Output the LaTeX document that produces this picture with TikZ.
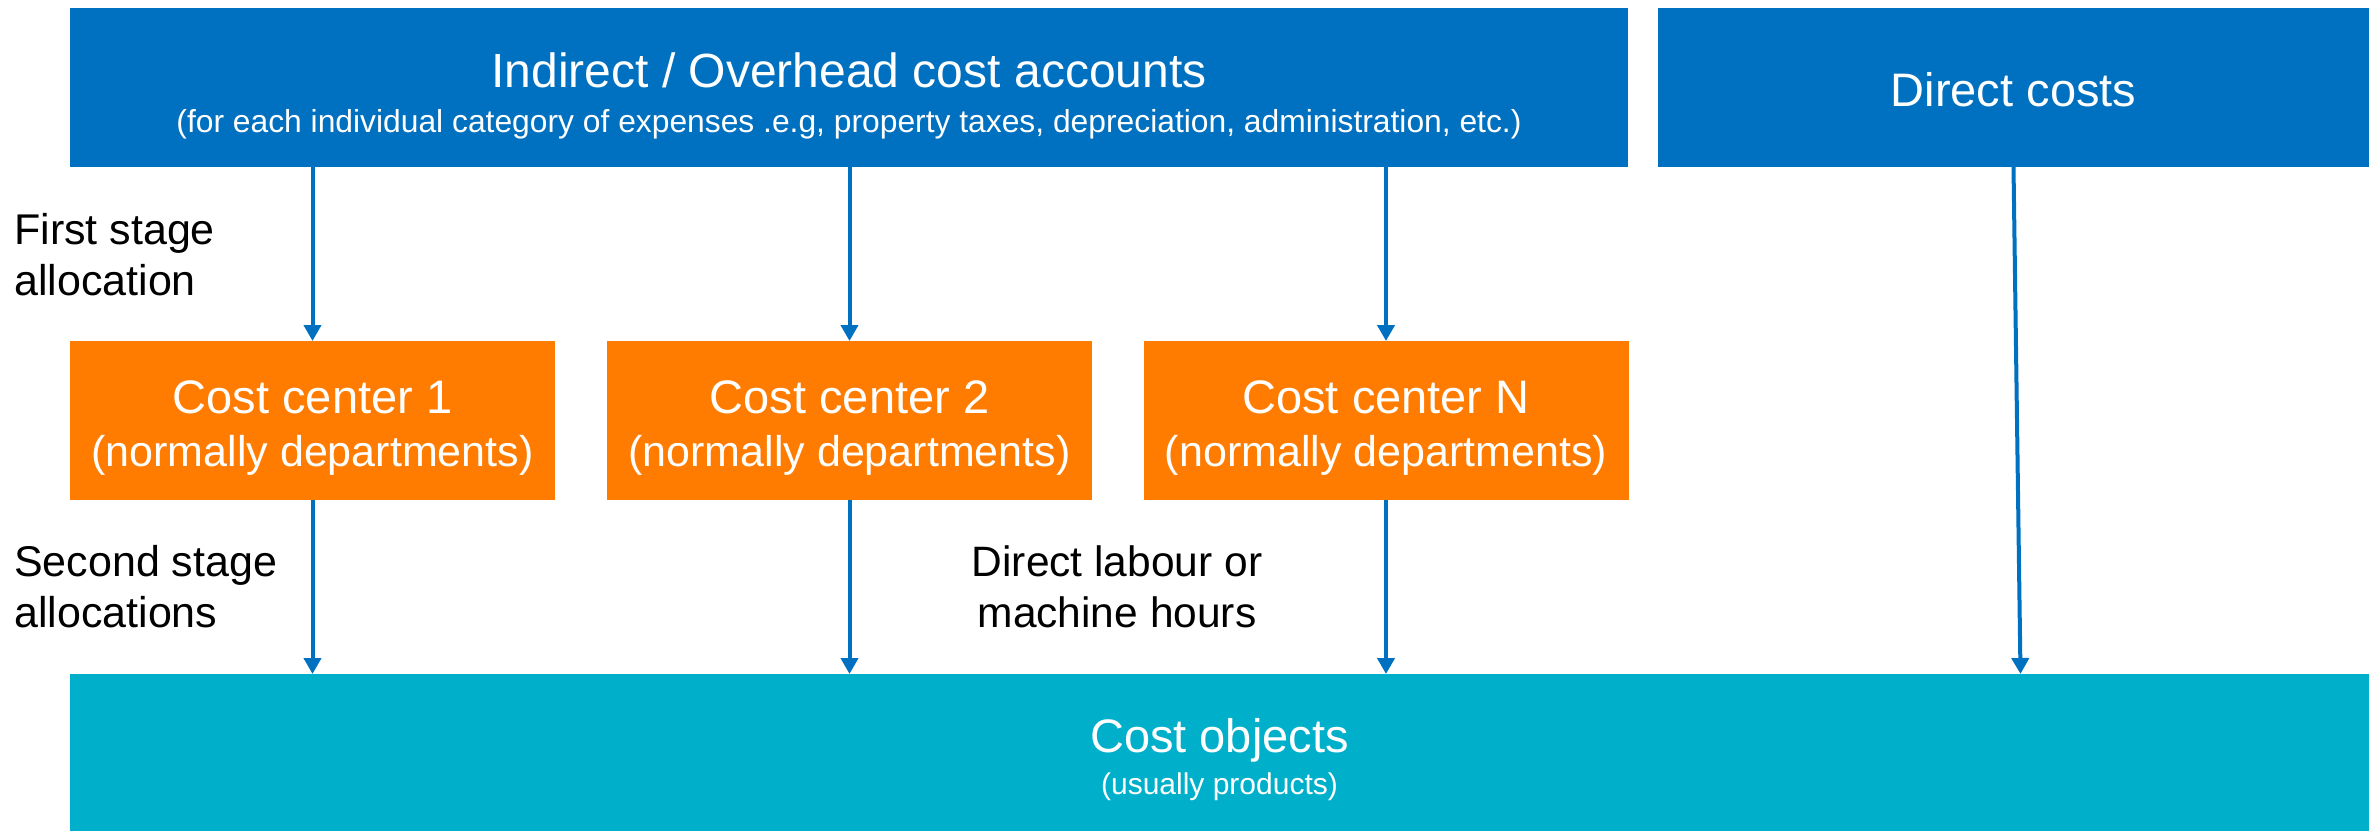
\documentclass[tikz,border=0pt]{standalone}
\usepackage{fontspec}
\setmainfont{Liberation Sans}
\usetikzlibrary{arrows.meta}
\definecolor{cblue}{RGB}{0,112,192}
\definecolor{corange}{RGB}{255,124,0}
\definecolor{ccyan}{RGB}{0,176,202}
\begin{document}
\begin{tikzpicture}[x=1pt,y=-1pt,
  box/.style={rectangle, inner sep=0pt, outer sep=0pt, text=white, align=center},
  arr/.style={draw=cblue, line width=4pt, -{Triangle[length=16pt,width=17pt]}},
  wt/.style={text=white, anchor=base, inner sep=0pt},
  lbl/.style={anchor=base west, align=left, font=\fontsize{43}{51}\selectfont, inner sep=0pt}
]
\useasboundingbox (0,0) rectangle (2380,830);
% boxes
\node[box, fill=cblue, minimum width=1558pt, minimum height=159pt] (ind) at (849,87.5) {};
\node[box, fill=cblue, minimum width=711pt, minimum height=159pt] (dc) at (2013.5,87.5) {};
\node[box, fill=corange, minimum width=485pt, minimum height=159pt] (c1) at (312.5,420.5) {};
\node[box, fill=corange, minimum width=485pt, minimum height=159pt] (c2) at (849.5,420.5) {};
\node[box, fill=corange, minimum width=485pt, minimum height=159pt] (c3) at (1386,420.5) {};
\node[box, fill=ccyan, minimum width=2299pt, minimum height=160pt] (co) at (1219.5,754) {};
% texts
\node[wt, font=\fontsize{48}{52}\selectfont] (indt) at (849,87) {Indirect / Overhead cost accounts};
\node[wt, font=\fontsize{31.8}{36}\selectfont] (inds) at (849,132) {(for each individual category of expenses .e.g, property taxes, depreciation, administration, etc.)};
\node[wt, font=\fontsize{47}{52}\selectfont] (dct) at (2013.5,106) {Direct costs};
\node[wt, font=\fontsize{47}{52}\selectfont] (c1t) at (312.5,413) {Cost center 1};
\node[wt, font=\fontsize{43}{52}\selectfont] (c1s) at (312.5,466) {(normally departments)};
\node[wt, font=\fontsize{47}{52}\selectfont] (c2t) at (849.5,413) {Cost center 2};
\node[wt, font=\fontsize{43}{52}\selectfont] (c2s) at (849.5,466) {(normally departments)};
\node[wt, font=\fontsize{47}{52}\selectfont] (c3t) at (1386,413) {Cost center N};
\node[wt, font=\fontsize{43}{52}\selectfont] (c3s) at (1386,466) {(normally departments)};
\node[wt, font=\fontsize{47}{52}\selectfont] (cot) at (1219.5,752) {Cost objects};
\node[wt, font=\fontsize{30}{36}\selectfont] (cos) at (1219.5,794) {(usually products)};
% labels (base = last line)
\node[lbl] (l1) at (14,295) {First stage\\allocation};
\node[lbl] (l2) at (14,627) {Second stage\\allocations};
\node[anchor=base, align=center, inner sep=0pt, font=\fontsize{42.5}{51}\selectfont] (l3) at (1117,627) {Direct labour or\\machine hours};
% arrows
\draw[arr] (ind.south -| c1.north) -- (c1.north);
\draw[arr] (ind.south -| c2.north) -- (c2.north);
\draw[arr] (ind.south -| c3.north) -- (c3.north);
\draw[arr] (c1.south) -- (c1.south |- co.north);
\draw[arr] (c2.south) -- (c2.south |- co.north);
\draw[arr] (c3.south) -- (c3.south |- co.north);
\draw[arr] (dc.south) -- ([xshift=7pt]dc.south |- co.north);
\end{tikzpicture}
\end{document}
